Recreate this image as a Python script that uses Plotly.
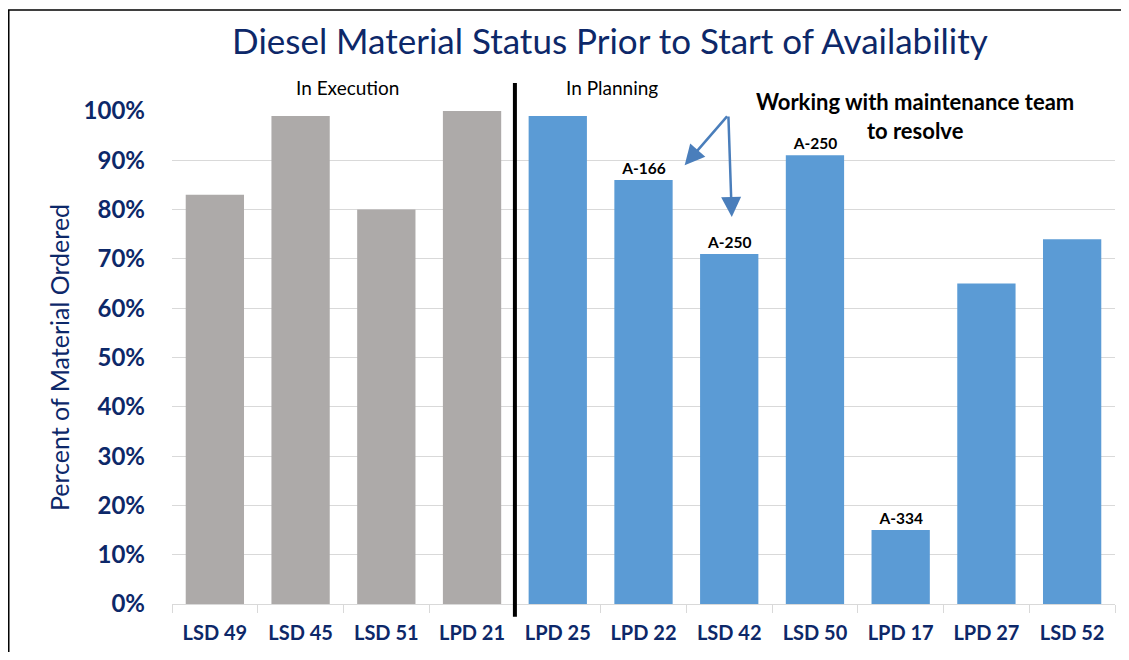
import plotly.graph_objs as go


# 数据
ships = ['LSD 49', 'LSD 45', 'LSD 51', 'LPD 21', 'LPD 25', 'LPD 22',
         'LSD 42', 'LSD 50', 'LPD 17', 'LPD 27', 'LSD 52']
pct_ordered = [0.83, 0.99, 0.80, 1.00, 0.99, 0.86, 0.71, 0.91, 0.15, 0.65, 0.74]
phase = ['exec', 'exec', 'exec', 'exec', 'plan', 'plan', 'plan', 'plan', 'plan', 'plan', 'plan']
avail_labels = ['', '', '', '', '', 'A-166', 'A-250', 'A-250', 'A-334', '', '']

NAVY = '#0d2869'
GRAY = '#adaaa9'
BLUE = '#5b9bd5'
ARROW = '#4a7ebb'
FONT = 'Lato'

bar_colors = [GRAY if p == 'exec' else BLUE for p in phase]

# 页面 body 有 8px 边距，图的尺寸和边距都按这个扣掉，免得出现滚动条
W, H = 1113, 644

figure = go.Figure(
    data=[
        go.Bar(
            x=ships,
            y=pct_ordered,
            marker=dict(color=bar_colors, line=dict(width=0)),
            text=avail_labels,
            textposition='outside',
            textfont=dict(family=FONT, size=15.5, color='black', weight='bold'),
            cliponaxis=False,
            width=0.68,
        )
    ],
    layout=go.Layout(
        width=W,
        height=H,
        showlegend=False,
        margin=go.layout.Margin(l=164, r=6, t=103, b=48),
        paper_bgcolor='white',
        plot_bgcolor='white',
        font=dict(family=FONT),
        title=dict(
            text='Diesel Material Status Prior to Start of Availability',
            font=dict(family=FONT, size=35, color=NAVY),
            x=602 / W, xanchor='center',
            y=1 - 34 / H, yanchor='middle',
        ),
        xaxis=dict(
            type='category',
            tickfont=dict(family=FONT, size=20, color=NAVY, weight='bold'),
            showline=True, linecolor='#d9d9d9', linewidth=1,
            ticks='outside', tickson='boundaries', ticklen=8, tickcolor='#d9d9d9',
            ticklabelstandoff=11,
            showgrid=False,
        ),
        yaxis=dict(
            range=[0, 1.0],
            tickvals=[i / 10 for i in range(11)],
            tickformat='.0%',
            tickfont=dict(family=FONT, size=24, color=NAVY, weight='bold'),
            ticklabelstandoff=26,
            showgrid=True, gridcolor='#d9d9d9', gridwidth=1,
            zeroline=False,
            title=dict(text='Percent of Material Ordered',
                       font=dict(family=FONT, size=25, color=NAVY),
                       standoff=6),
        ),
        shapes=[
            # 执行/计划分隔线
            dict(type='line', xref='x', yref='paper', x0=3.5, x1=3.5,
                 y0=-0.026, y1=1.057, line=dict(color='black', width=4)),
            # 外框（右边和下边在画面外）
            dict(type='rect', xref='paper', yref='paper',
                 x0=-0.1731, x1=1.1, y0=-0.3, y1=1.2049,
                 line=dict(color='black', width=1.5)),
        ],
        annotations=[
            dict(text='In Execution', x=1.55, y=1.075, xref='x', yref='paper',
                 showarrow=False, font=dict(family=FONT, size=19, color='black')),
            dict(text='In Planning', x=4.63, y=1.075, xref='x', yref='paper',
                 showarrow=False, font=dict(family=FONT, size=19, color='black')),
            dict(text='<b>Working with maintenance team<br>to resolve</b>',
                 x=8.17, y=0.989, xref='x', yref='y', showarrow=False,
                 font=dict(family=FONT, size=22, color='black')),
            dict(text='', x=5.48, y=0.89, xref='x', yref='y',
                 ax=5.99, ay=0.992, axref='x', ayref='y',
                 showarrow=True, arrowhead=2, arrowsize=1.6, arrowwidth=2.5,
                 arrowcolor=ARROW),
            dict(text='', x=6.03, y=0.785, xref='x', yref='y',
                 ax=5.99, ay=0.992, axref='x', ayref='y',
                 showarrow=True, arrowhead=2, arrowsize=1.6, arrowwidth=2.5,
                 arrowcolor=ARROW),
        ],
    )
)

figure.write_html('out.html')
